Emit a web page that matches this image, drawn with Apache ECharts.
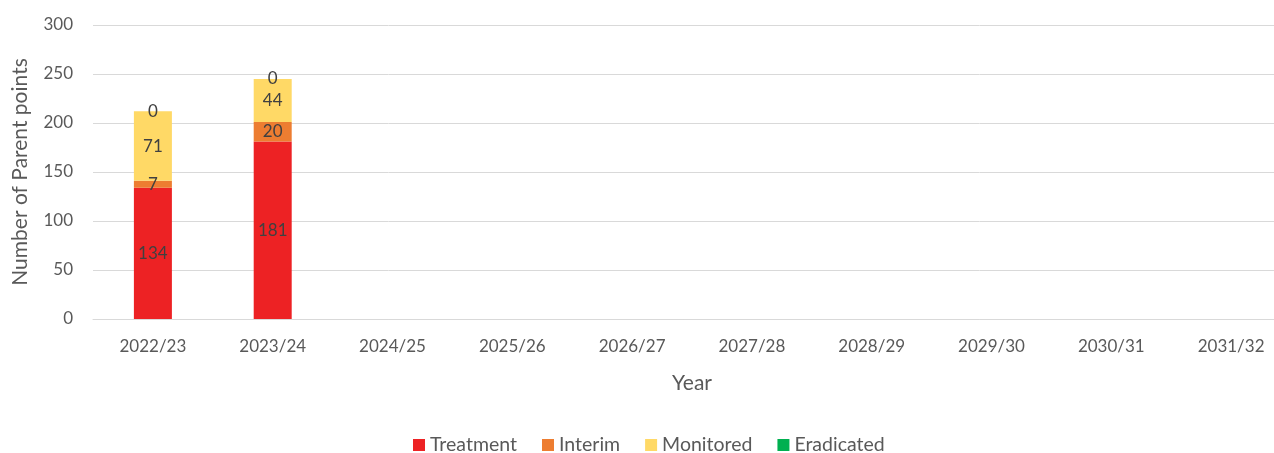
<!DOCTYPE html>
<html>
<head>
<meta charset="utf-8">
<script src="https://cdn.jsdelivr.net/npm/echarts@6/dist/echarts.min.js"></script>
<style>
    html, body { margin: 0; padding: 0; background: #fff; }
    #chart { width: 1274px; height: 453px; }
</style>
</head>
<body>
<div id="chart"></div>
<script>
    // 年份
    var years = ['2022/23', '2023/24', '2024/25', '2025/26', '2026/27', '2027/28', '2028/29', '2029/30', '2030/31', '2031/32'];
    var treatment = [134, 181];
    var interim = [7, 20];
    var monitored = [71, 44];
    var eradicated = [0, 0];
    var yTicks = [0, 50, 100, 150, 200, 250, 300];

    var font = 'Lato';
    var chart = echarts.init(document.getElementById('chart'));

    function makeSeries(name, data, color) {
        return {
            name: name,
            type: 'bar',
            stack: 'total',
            barWidth: 38,
            data: data,
            itemStyle: { color: color },
            label: {
                show: true,
                position: 'inside',
                color: '#404040',
                fontFamily: font,
                fontSize: 17
            }
        };
    }

    var option = {
        animation: false,
        textStyle: { fontFamily: font },
        // 右边超出画布一点，和原图一致
        grid: { left: 93, right: -17, top: 25, bottom: 134, outerBoundsMode: 'none', containLabel: false },
        legend: {
            top: 430,
            left: 408,
            itemWidth: 12,
            itemHeight: 12,
            itemGap: 25,
            icon: 'rect',
            textStyle: { color: '#595959', fontSize: 19.5, fontFamily: font },
            data: ['Treatment', 'Interim', 'Monitored', 'Eradicated']
        },
        xAxis: {
            type: 'category',
            data: years,
            name: 'Year',
            nameLocation: 'middle',
            nameGap: 54,
            nameTextStyle: { color: '#595959', fontSize: 21, fontFamily: font },
            axisTick: { show: false },
            axisLine: { lineStyle: { color: '#d9d9d9' } },
            axisLabel: { color: '#595959', fontSize: 17, margin: 19, fontFamily: font }
        },
        yAxis: {
            type: 'value',
            min: yTicks[0],
            max: yTicks[yTicks.length - 1],
            interval: 50,
            name: 'Number of Parent points',
            nameLocation: 'middle',
            nameGap: 62,
            nameTextStyle: { color: '#595959', fontSize: 21, fontFamily: font },
            axisLine: { show: false },
            axisTick: { show: false },
            splitLine: { lineStyle: { color: '#d9d9d9' } },
            axisLabel: { color: '#595959', fontSize: 17, margin: 20, fontFamily: font }
        },
        series: [
            makeSeries('Treatment', treatment, '#ED2224'),
            makeSeries('Interim', interim, '#ED7D31'),
            makeSeries('Monitored', monitored, '#FFD966'),
            makeSeries('Eradicated', eradicated, '#00B050')
        ]
    };

    chart.setOption(option);
</script>
</body>
</html>
